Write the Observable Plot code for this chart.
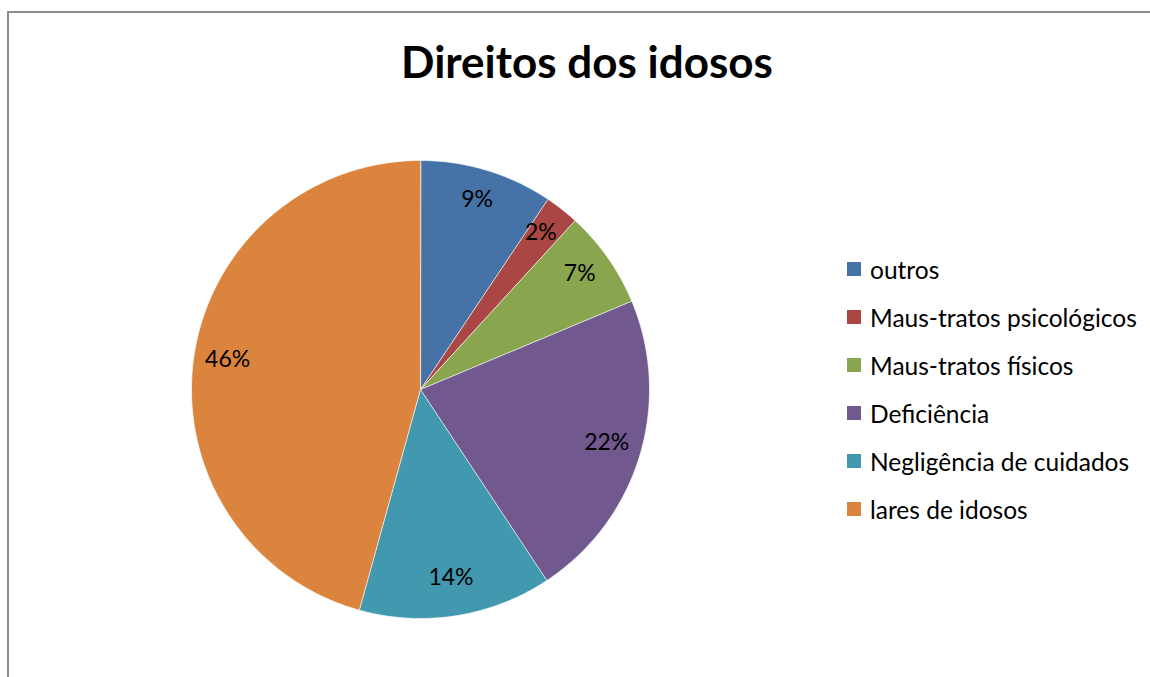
<!DOCTYPE html>
<html>
<head>
<meta charset="utf-8">
<script src="https://cdn.jsdelivr.net/npm/d3@7"></script>
<script src="https://cdn.jsdelivr.net/npm/@observablehq/plot@0.6"></script>
<style>
  html, body { margin: 0; padding: 0; background: #fff; }
  #frame {
    position: relative; width: 1150px; height: 677px; overflow: hidden;
    font-family: Lato, "Open Sans", sans-serif; color: #000;
  }
  #border {
    position: absolute; left: 7px; top: 11px; width: 1200px; height: 700px;
    border-left: 2px solid #8c8c8c; border-top: 2px solid #8c8c8c;
    box-sizing: border-box;
  }
  #title {
    position: absolute; left: 0; width: 1174px; top: 33px; text-align: center;
    font-weight: bold; font-size: 44px; line-height: 56px;
  }
  #pie { position: absolute; left: 185px; top: 154px; }
  #legend { position: absolute; left: 847px; top: 245px; font-size: 24.5px; }
  .row { display: flex; align-items: center; height: 48px; white-space: nowrap; }
  .sw { width: 14px; height: 14px; margin-right: 9px; flex: none; }
</style>
</head>
<body>
<div id="frame">
  <div id="border"></div>
  <div id="title">Direitos dos idosos</div>
  <div id="pie"></div>
  <div id="legend"></div>
</div>
<script>
// Data
const categories = ["outros", "Maus-tratos psicológicos", "Maus-tratos físicos", "Deficiência", "Negligência de cuidados", "lares de idosos"];
const values = [9.4, 2.4, 6.9, 22.0, 13.6, 45.7];
const colors = ["#4572A7", "#AA4643", "#89A54E", "#71588F", "#4198AF", "#DB843D"];

const table = categories.map((c, i) => ({category: c, value: values[i]}));
const total = d3.sum(values);
const arcs = d3.pie().sort(null).value(d => d.value)(table);

// polygon vertices for each slice (angles clockwise from north)
const verts = [];
for (const a of arcs) {
  verts.push({category: a.data.category, x: 0, y: 0});
  const n = Math.max(2, Math.ceil((a.endAngle - a.startAngle) / 0.01));
  for (let k = 0; k <= n; k++) {
    const t = a.startAngle + (a.endAngle - a.startAngle) * k / n;
    verts.push({category: a.data.category, x: Math.sin(t), y: Math.cos(t)});
  }
}
const labels = arcs.map(a => {
  const m = (a.startAngle + a.endAngle) / 2;
  return {x: 0.85 * Math.sin(m), y: 0.85 * Math.cos(m),
          text: Math.round(a.data.value / total * 100) + "%"};
});

const size = 470, m = 6;
const pie = Plot.plot({
  width: size, height: size,
  margin: m,
  x: {domain: [-1, 1], axis: null},
  y: {domain: [-1, 1], axis: null},
  color: {domain: categories, range: colors},
  style: {fontFamily: "Lato, 'Open Sans', sans-serif", background: "transparent"},
  marks: [
    Plot.line(verts, {x: "x", y: "y", z: "category", fill: "category",
      stroke: "#ffffff", strokeWidth: 0.8, strokeOpacity: 0.8, curve: "linear-closed"}),
    Plot.text(labels, {x: "x", y: "y", text: "text", fontSize: 23, fill: "#000", dy: -4})
  ]
});
document.getElementById("pie").appendChild(pie);

const legend = document.getElementById("legend");
categories.forEach((c, i) => {
  const row = document.createElement("div");
  row.className = "row";
  const sw = document.createElement("span");
  sw.className = "sw";
  sw.style.background = colors[i];
  const t = document.createElement("span");
  t.textContent = c;
  row.appendChild(sw); row.appendChild(t);
  legend.appendChild(row);
});
</script>
</body>
</html>
